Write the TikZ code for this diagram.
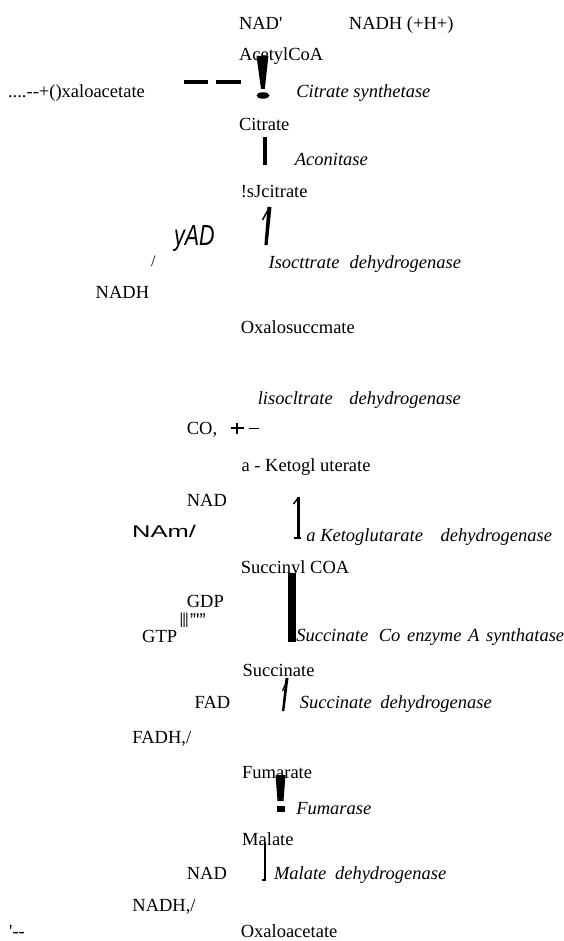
\documentclass[tikz,border=0pt]{standalone}
\usepackage{fontspec}
\setmainfont{Liberation Serif}
\setsansfont{Liberation Sans}

\begin{document}
\begin{tikzpicture}[x=1pt, y=-1pt,
    met/.style={anchor=base west, inner sep=0pt, font=\fontsize{18.5}{21}\selectfont},
    enz/.style={anchor=base west, inner sep=0pt, font=\fontsize{18.5}{21}\selectfont\itshape}]
  \useasboundingbox (0,0) rectangle (563,941);
  \clip (0,0) rectangle (563,941);
  % Entry: acetyl CoA joins oxaloacetate
  \node[met] (nadp) at (238.8,30) {NAD\textquotesingle};
  \node[met] (nadhh) at (348.7,30) {NADH (+H+)};
  \node[met] (acoa) at (238.8,61) {AcetylCoA};
  \node[met] (oaain) at (7.9,98) {....-{}-+()xaloacetate};
  \node[enz] (cs) at (296.1,98) {Citrate synthetase};
  \fill (184,80.5) rectangle (208,84.5);
  \fill (216,80.5) rectangle (240.6,84.5);
  \fill (256.5,56) -- (268.4,56) -- (264.8,89) -- (261,89) -- cycle;
  \fill (263,95.5) ellipse (6.5 and 3.2);
  % Citrate to isocitrate
  \node[met] (cit) at (238.8,131) {Citrate};
  \fill (263,137) rectangle (266.6,165);
  \node[enz] (aco) at (294.7,166) {Aconitase};
  \node[met] (icit) at (240.6,198) {!sJcitrate};
  % Isocitrate dehydrogenase, first step
  \node[anchor=base west, inner sep=0pt, font=\fontsize{29}{31}\sffamily\itshape] (yad) at (174,245) {\scalebox{0.74}[1]{yAD}};
  \fill (267.5,207) -- (271.5,207) -- (267.6,245) -- (264.4,245) -- cycle;
  \draw[line width=1.5] (269,208) -- (262.5,220);
  \node[anchor=base west, inner sep=0pt, font=\fontsize{16}{18}\selectfont] (sl) at (151,266) {/};
  \node[enz] (idh) at (268.4,268) {Isocttrate\hspace{5.5pt} dehydrogenase};
  \node[met] (nadh1) at (95.5,298) {NADH};
  \node[met] (oxs) at (240.6,333) {Oxalosuccmate};
  % Isocitrate dehydrogenase, decarboxylation
  \node[enz] (idh2) at (257.6,404) {lisocltrate\hspace{12pt} dehydrogenase};
  \node[met] (co2) at (186.6,434) {CO,};
  \draw[line width=2.2] (230.5,428.3) -- (244,428.3);
  \draw[line width=2.2] (237.3,422.5) -- (237.3,434);
  \draw[line width=1.6] (249,428.3) -- (259,428.3);
  \node[met] (akg) at (241.4,471) {a - Ketogl uterate};
  % alpha-ketoglutarate dehydrogenase
  \node[met] (nad2) at (186.6,506) {NAD};
  \node[anchor=base west, inner sep=0pt, font=\fontsize{17}{20}\sffamily] (nam) at (132,537) {\scalebox{1.5}[1]{NAm/}};
  \draw[line width=2.5] (298.5,497) -- (298.5,538);
  \draw[line width=1.5] (298.5,497.5) -- (293.5,504);
  \draw[line width=1.8] (293.5,538) -- (301,538);
  \node[enz] (akgdh) at (306.2,541) {a Ketoglutarate\hspace{13pt} dehydrogenase};
  \node[met] (scoa) at (240.6,573) {Succinyl COA};
  % Succinyl CoA synthetase
  \fill (288.2,573) rectangle (296.1,642);
  \node[met] (gdp) at (186.6,607) {GDP};
  \node[anchor=base west, inner sep=0pt, font=\fontsize{20}{22}\sffamily] (bars) at (180,627) {\scalebox{0.6}[1]{lll}\hspace{2pt}\scalebox{0.9}[1]{"\textquotesingle"}};
  \node[met] (gtp) at (142,642) {GTP};
  \node[enz] (scs) at (296.1,641) {Succinate\hspace{6pt} Co\hspace{2pt} enzyme\hspace{2pt} A\hspace{2pt} synthatase};
  \node[met] (succ) at (242.4,676) {Succinate};
  % Succinate dehydrogenase
  \fill (285.5,678) -- (288.5,678) -- (284.3,711) -- (282,711) -- cycle;
  \draw[line width=1.2] (287.5,679) -- (282.5,691);
  \node[met] (fad) at (194.5,708) {FAD};
  \node[enz] (sdh) at (299.7,708) {Succinate\hspace{4pt} dehydrogenase};
  \node[met] (fadh) at (132.2,743) {FADH,/};
  \node[met] (fum) at (242,778) {Fumarate};
  % Fumarase
  \fill (275.5,775) -- (285.5,775) -- (283.5,801) -- (277.5,801) -- cycle;
  \fill (276.5,806) rectangle (284.5,812);
  \node[enz] (fase) at (296.1,814) {Fumarase};
  \node[met] (mal) at (242,845) {Malate};
  % Malate dehydrogenase
  \draw[line width=1.2] (265,842) -- (265,880) -- (261.5,880);
  \node[met] (nad3) at (186.6,879) {NAD};
  \node[enz] (mdh) at (273.8,879) {Malate\hspace{4pt} dehydrogenase};
  \node[met] (nadh3) at (132.2,911) {NADH,/};
  \node[met] (ret) at (9,937) {\textquotesingle-{}-};
  \node[met] (oaa) at (240.6,937.5) {Oxaloacetate};
\end{tikzpicture}
\end{document}
